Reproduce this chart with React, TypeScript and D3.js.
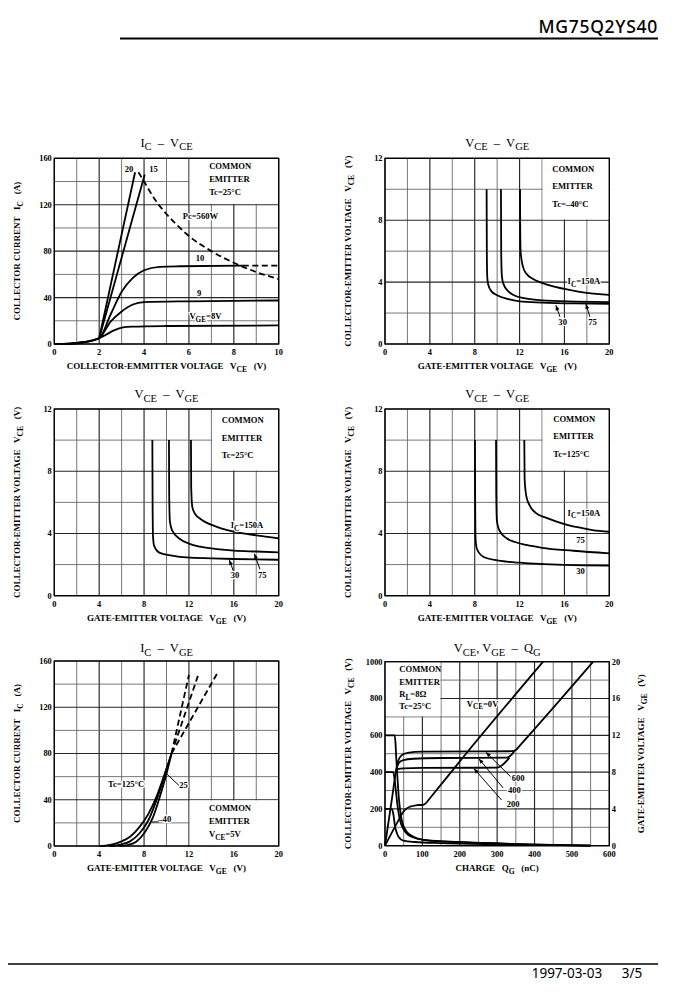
import React from 'react';
import * as d3 from 'd3';

type Pt = [number, number];

// ---------------- Chart 1 : IC - VCE ----------------
const c1XTicks = [0, 2, 4, 6, 8, 10];
const c1YTicks = [0, 40, 80, 120, 160];
const c1Vge8: Pt[] = [[0, 0], [0.7, 0.3], [1.3, 1.5], [2, 5], [2.3, 8], [2.63, 11.5], [3, 14.2], [3.5, 15], [5, 15.5], [10, 16]];
const c1Vge9: Pt[] = [[0, 0], [0.7, 0.3], [1.3, 1.5], [2, 5], [2.5, 19], [3, 28], [3.5, 34], [4, 36], [6, 36.8], [10, 37.5]];
const c1Vge10: Pt[] = [[0, 0], [0.7, 0.3], [1.3, 1.5], [2, 5], [2.5, 25], [3, 45], [3.5, 57], [4, 63.5], [4.7, 66.5], [5.6, 67], [8.4, 67.5]];
const c1Vge10Ext: Pt[] = [[8.4, 67.5], [10, 67.5]];
const c1Vge15: Pt[] = [[2, 5], [4.03, 146]];
const c1Vge20: Pt[] = [[2, 5], [3.6, 148]];
const c1Pc560: Pt[] = [[3.75, 148], [4, 140], [4.5, 124], [5, 112], [5.6, 100], [6, 93], [7, 80], [8, 70], [9, 62], [10, 56]];

// ---------------- Chart 2 : VCE - VGE, Tc = -40 ----------------
const vgeTicks = [0, 4, 8, 12, 16, 20];
const vceTicks = [0, 4, 8, 12];
const c2Ic30: Pt[] = [[9.06, 10], [9.08, 6], [9.12, 4.3], [9.2, 3.85], [9.5, 3.4], [10, 3.15], [11, 2.9], [12, 2.76], [14, 2.68], [17, 2.62], [20, 2.6]];
const c2Ic75: Pt[] = [[10.34, 10], [10.36, 6], [10.42, 4.4], [10.55, 3.9], [11, 3.4], [11.5, 3.15], [12.5, 2.95], [14, 2.82], [17, 2.74], [20, 2.7]];
const c2Ic150: Pt[] = [[12.04, 10], [12.06, 7], [12.1, 5.9], [12.3, 5.0], [12.6, 4.55], [13.2, 4.2], [14, 3.95], [15, 3.72], [16.8, 3.45], [18, 3.3], [20, 3.17]];

// ---------------- Chart 3 : VCE - VGE, Tc = 25 ----------------
const c3Ic30: Pt[] = [[8.74, 10], [8.76, 6], [8.8, 3.8], [8.9, 3.2], [9.4, 2.75], [10.5, 2.58], [11.8, 2.46], [14, 2.4], [16, 2.36], [20, 2.31]];
const c3Ic75: Pt[] = [[10.22, 10], [10.24, 6.5], [10.3, 4.8], [10.5, 4.2], [11.2, 3.64], [12, 3.35], [13, 3.15], [14.5, 3.0], [16, 2.9], [18, 2.84], [20, 2.79]];
const c3Ic150: Pt[] = [[12.18, 10], [12.2, 7], [12.3, 5.7], [12.6, 5.2], [13, 4.95], [13.6, 4.68], [14.2, 4.5], [15, 4.3], [16, 4.12], [18, 3.88], [20, 3.69]];

// ---------------- Chart 4 : VCE - VGE, Tc = 125 ----------------
const c4Ic30: Pt[] = [[8.02, 10], [8.04, 6], [8.08, 3.6], [8.2, 3.0], [8.77, 2.5], [10, 2.27], [10.85, 2.19], [12, 2.12], [13.8, 2.04], [16, 1.98], [20, 1.93]];
const c4Ic75: Pt[] = [[9.9, 10], [9.92, 6.5], [9.98, 4.8], [10.2, 4.2], [10.85, 3.69], [11.6, 3.45], [12.6, 3.26], [14, 3.08], [16.8, 2.89], [20, 2.72]];
const c4Ic150: Pt[] = [[12.42, 10], [12.45, 7.5], [12.6, 6.4], [12.9, 5.8], [13.5, 5.29], [14.4, 5.0], [15.3, 4.76], [16.5, 4.5], [17.4, 4.37], [18.5, 4.22], [20, 4.11]];

// ---------------- Chart 5 : IC - VGE ----------------
const c5XTicks = [0, 4, 8, 12, 16, 20];
const c5YTicks = [0, 40, 80, 120, 160];
const c5Tc125: Pt[] = [[4, 0], [5, 1], [6, 4], [6.75, 8], [7.6, 16.5], [8.4, 28], [9.1, 42.5], [9.7, 58.5], [10.45, 80]];
const c5Tc25: Pt[] = [[4.9, 0], [6, 1.5], [6.75, 4], [7.6, 11], [8.4, 22.5], [9.1, 39.5], [9.7, 57], [10.45, 80]];
const c5TcM40: Pt[] = [[5.8, 0], [6.6, 1], [7.3, 3.7], [8.1, 12.4], [8.8, 25], [9.4, 42.5], [10, 62.5], [10.45, 80]];
const c5Ext1: Pt[] = [[10.45, 80], [12, 148]];
const c5Ext2: Pt[] = [[10.45, 80], [12.9, 150]];
const c5Ext3: Pt[] = [[10.45, 80], [14.5, 149]];

// ---------------- Chart 6 : VCE, VGE - QG ----------------
const qgTicks = [0, 100, 200, 300, 400, 500, 600];
const c6LeftTicks = [0, 200, 400, 600, 800, 1000];
const c6RightTicks = [0, 4, 8, 12, 16, 20];
const c6Vce600: Pt[] = [[0, 600], [26, 600], [28, 560], [30, 480], [33, 380], [37, 260], [42, 170], [48, 115], [58, 76], [76, 49], [103, 32], [150, 24], [250, 15], [400, 6], [550, 0]];
const c6Vce400: Pt[] = [[0, 400], [22, 400], [25, 370], [29, 300], [34, 210], [40, 140], [48, 95], [60, 62], [80, 42], [110, 30], [200, 20], [350, 9], [550, 0]];
const c6Vce200: Pt[] = [[0, 200], [18, 200], [22, 175], [27, 103], [32, 68], [36, 49], [49, 28], [80, 20], [150, 14], [300, 7], [550, 0]];
const c6Vge0: Pt[] = [[0, 0], [20, 1.55], [40, 3.05], [49, 3.7], [58, 4.05], [67, 4.24], [85, 4.4], [103, 4.45], [110, 4.65], [118, 5.05], [214, 9.86], [423, 20]];
const c6Vge600: Pt[] = [[0, 0], [10, 2.75], [20, 5.5], [29, 8.0], [35, 9.2], [45, 9.85], [60, 10.1], [100, 10.22], [250, 10.25], [340, 10.27], [350, 10.4], [360, 10.85], [557, 20]];
const c6Vge400: Pt[] = [[29, 8.0], [36, 8.95], [49, 9.3], [76, 9.45], [150, 9.53], [325, 9.57], [333, 9.7], [346, 10.27]];
const c6Vge200: Pt[] = [[29, 8.0], [36, 8.34], [49, 8.4], [100, 8.46], [300, 8.48], [308, 8.6], [333, 9.57]];

// ---------------- layout / styles ----------------
const SERIF = "'Liberation Serif', 'Times New Roman', serif";
const SANS = "'Noto Sans', 'Open Sans', sans-serif";

interface Series { pts: Pt[]; dash?: boolean; right?: boolean; }
interface Label { text: string; x: number; y: number; anchor?: 'start' | 'middle' | 'end'; halo?: boolean; }
interface Arrow { from: Pt; to: Pt; head?: boolean; }
interface ChartDef {
  box: [number, number, number, number];
  xDomain: [number, number]; yDomain: [number, number]; yRightDomain?: [number, number];
  xGrid: number[]; xTicks: number[]; yGrid: number[]; yTicks: number[]; yRightTicks?: number[];
  mask: [number, number, number, number];
  series: Series[]; labels: Label[]; arrows: Arrow[];
  title: string; titleY: number; xLabel: string; yLabel: string; yRightLabel?: string;
}

function rich(s: string, size: number) {
  const parts = s.split(/(_\{[^}]*\})/).filter(p => p !== '');
  const out: React.ReactNode[] = [];
  let shifted = false;
  const sh = size * 0.3;
  parts.forEach((p, i) => {
    if (p.startsWith('_{')) {
      out.push(<tspan key={i} fontSize={size * 0.84} dy={shifted ? 0 : sh}>{p.slice(2, -1)}</tspan>);
      shifted = true;
    } else {
      out.push(<tspan key={i} dy={shifted ? -sh : 0}>{p}</tspan>);
      shifted = false;
    }
  });
  return out;
}

const grid = (a: number, b: number, s: number) => d3.range(a, b + s / 2, s);

const charts: ChartDef[] = [
  {
    box: [54.3, 158.3, 278.7, 344], xDomain: [0, 10], yDomain: [0, 160],
    xGrid: grid(0, 10, 1), xTicks: c1XTicks, yGrid: grid(0, 160, 20), yTicks: c1YTicks,
    mask: [6, 10, 120, 160],
    series: [
      { pts: c1Vge8 }, { pts: c1Vge9 }, { pts: c1Vge10 }, { pts: c1Vge10Ext, dash: true },
      { pts: c1Vge15 }, { pts: c1Vge20 }, { pts: c1Pc560, dash: true },
    ],
    labels: [
      { text: '20', x: 3.33, y: 148.5, anchor: 'middle', halo: false },
      { text: '15', x: 4.42, y: 148.5, anchor: 'middle', halo: false },
      { text: 'Pc=560W', x: 5.72, y: 107.3 },
      { text: '10', x: 6.49, y: 71.7, anchor: 'middle' },
      { text: '9', x: 6.45, y: 41.5, anchor: 'middle' },
      { text: 'V_{GE}=8V', x: 6.02, y: 21.5 },
      { text: 'COMMON', x: 6.9, y: 150.5, halo: false },
      { text: 'EMITTER', x: 6.9, y: 139.6, halo: false },
      { text: 'Tc=25°C', x: 6.9, y: 128.8, halo: false },
    ],
    arrows: [],
    title: 'I_{C}  –  V_{CE}', titleY: 146.7,
    xLabel: 'COLLECTOR-EMMITTER VOLTAGE   V_{CE}   (V)', yLabel: 'COLLECTOR CURRENT   I_{C}   (A)',
  },
  {
    box: [385, 158.3, 609.3, 344], xDomain: [0, 20], yDomain: [0, 12],
    xGrid: grid(0, 20, 2), xTicks: vgeTicks, yGrid: grid(0, 12, 2), yTicks: vceTicks,
    mask: [14, 20, 8, 12],
    series: [{ pts: c2Ic30 }, { pts: c2Ic75 }, { pts: c2Ic150 }],
    labels: [
      { text: 'I_{C}=150A', x: 16.28, y: 3.88 },
      { text: '30', x: 15.84, y: 1.23, anchor: 'middle' },
      { text: '75', x: 18.51, y: 1.23, anchor: 'middle' },
      { text: 'COMMON', x: 14.91, y: 11.14, halo: false },
      { text: 'EMITTER', x: 14.91, y: 10.0, halo: false },
      { text: 'Tc=–40°C', x: 14.91, y: 8.88, halo: false },
    ],
    arrows: [
      { from: [15.6, 1.76], to: [15.24, 2.5], head: true },
      { from: [18.27, 1.76], to: [17.91, 2.6], head: true },
    ],
    title: 'V_{CE}  –  V_{GE}', titleY: 146.7,
    xLabel: 'GATE-EMITTER VOLTAGE   V_{GE}   (V)', yLabel: 'COLLECTOR-EMITTER VOLTAGE   V_{CE}   (V)',
  },
  {
    box: [54.3, 409, 278.7, 595.7], xDomain: [0, 20], yDomain: [0, 12],
    xGrid: grid(0, 20, 2), xTicks: vgeTicks, yGrid: grid(0, 12, 2), yTicks: vceTicks,
    mask: [14, 20, 8, 12],
    series: [{ pts: c3Ic30 }, { pts: c3Ic75 }, { pts: c3Ic150 }],
    labels: [
      { text: 'I_{C}=150A', x: 15.72, y: 4.33 },
      { text: '30', x: 16.1, y: 1.16, anchor: 'middle' },
      { text: '75', x: 18.54, y: 1.16, anchor: 'middle' },
      { text: 'COMMON', x: 14.92, y: 11.13, halo: false },
      { text: 'EMITTER', x: 14.92, y: 9.97, halo: false },
      { text: 'Tc=25°C', x: 14.92, y: 8.84, halo: false },
    ],
    arrows: [
      { from: [15.95, 1.6], to: [15.6, 2.3], head: true },
      { from: [18.33, 1.7], to: [17.83, 2.7], head: true },
    ],
    title: 'V_{CE}  –  V_{GE}', titleY: 398,
    xLabel: 'GATE-EMITTER VOLTAGE   V_{GE}   (V)', yLabel: 'COLLECTOR-EMITTER VOLTAGE   V_{CE}   (V)',
  },
  {
    box: [385, 409, 609.3, 595.7], xDomain: [0, 20], yDomain: [0, 12],
    xGrid: grid(0, 20, 2), xTicks: vgeTicks, yGrid: grid(0, 12, 2), yTicks: vceTicks,
    mask: [14, 20, 8, 12],
    series: [{ pts: c4Ic30 }, { pts: c4Ic75 }, { pts: c4Ic150 }],
    labels: [
      { text: 'I_{C}=150A', x: 16.28, y: 5.13 },
      { text: '75', x: 17.44, y: 3.37, anchor: 'middle' },
      { text: '30', x: 17.44, y: 1.38, anchor: 'middle' },
      { text: 'COMMON', x: 15.0, y: 11.19, halo: false },
      { text: 'EMITTER', x: 15.0, y: 10.06, halo: false },
      { text: 'Tc=125°C', x: 15.0, y: 8.9, halo: false },
    ],
    arrows: [],
    title: 'V_{CE}  –  V_{GE}', titleY: 398,
    xLabel: 'GATE-EMITTER VOLTAGE   V_{GE}   (V)', yLabel: 'COLLECTOR-EMITTER VOLTAGE   V_{CE}   (V)',
  },
  {
    box: [54.3, 661, 278.7, 846], xDomain: [0, 20], yDomain: [0, 160],
    xGrid: grid(0, 20, 2), xTicks: c5XTicks, yGrid: grid(0, 160, 20), yTicks: c5YTicks,
    mask: [12, 20, 0, 40],
    series: [
      { pts: c5Tc125 }, { pts: c5Tc25 }, { pts: c5TcM40 },
      { pts: c5Ext1, dash: true }, { pts: c5Ext2, dash: true }, { pts: c5Ext3, dash: true },
    ],
    labels: [
      { text: 'Tc=125°C', x: 4.79, y: 51 },
      { text: '25', x: 11.51, y: 50.2, anchor: 'middle' },
      { text: '–40', x: 9.27, y: 20.8 },
      { text: 'COMMON', x: 13.79, y: 30.5, halo: false },
      { text: 'EMITTER', x: 13.79, y: 19.0, halo: false },
      { text: 'V_{CE}=5V', x: 13.79, y: 7.5, halo: false },
    ],
    arrows: [
      { from: [11.1, 52.5], to: [9.95, 63] },
      { from: [8.68, 20.8], to: [9.3, 20.8] },
    ],
    title: 'I_{C}  –  V_{GE}', titleY: 652,
    xLabel: 'GATE-EMITTER VOLTAGE   V_{GE}   (V)', yLabel: 'COLLECTOR CURRENT   I_{C}   (A)',
  },
  {
    box: [385, 661.7, 609.3, 845.7], xDomain: [0, 600], yDomain: [0, 1000], yRightDomain: [0, 20],
    xGrid: grid(0, 600, 50), xTicks: qgTicks, yGrid: grid(0, 1000, 100), yTicks: c6LeftTicks, yRightTicks: c6RightTicks,
    mask: [0, 150, 700, 1000],
    series: [
      { pts: c6Vce600 }, { pts: c6Vce400 }, { pts: c6Vce200 },
      { pts: c6Vge0, right: true }, { pts: c6Vge600, right: true },
      { pts: c6Vge400, right: true }, { pts: c6Vge200, right: true },
    ],
    labels: [
      { text: 'COMMON', x: 38.3, y: 942, halo: false },
      { text: 'EMITTER', x: 38.3, y: 873, halo: false },
      { text: 'R_{L}=8Ω', x: 38.3, y: 808, halo: false },
      { text: 'Tc=25°C', x: 38.3, y: 743, halo: false },
      { text: 'V_{CE}=0V', x: 218.6, y: 755 },
      { text: '600', x: 339, y: 353 },
      { text: '400', x: 329, y: 288 },
      { text: '200', x: 325.6, y: 212 },
    ],
    arrows: [
      { from: [336, 375], to: [270, 508], head: true },
      { from: [316, 314], to: [251, 473], head: true },
      { from: [312, 248], to: [238, 419], head: true },
    ],
    title: 'V_{CE}, V_{GE}  –  Q_{G}', titleY: 652,
    xLabel: 'CHARGE   Q_{G}   (nC)', yLabel: 'COLLECTOR-EMITTER VOLTAGE   V_{CE}   (V)',
    yRightLabel: 'GATE-EMITTER VOLTAGE   V_{GE}   (V)',
  },
];

const LBL = 8.6;
const AX = 9;
const TICK = 8.4;

function Chart({ d }: { d: ChartDef }) {
  const [l, t, r, b] = d.box;
  const x = d3.scaleLinear().domain(d.xDomain).range([l, r]);
  const y = d3.scaleLinear().domain(d.yDomain).range([b, t]);
  const yR = d.yRightDomain ? d3.scaleLinear().domain(d.yRightDomain).range([b, t]) : y;
  const path = (s: Series) =>
    d3.line<Pt>().x(p => x(p[0])).y(p => (s.right ? yR : y)(p[1])).curve(d3.curveMonotoneX)(s.pts) || '';
  const major = (v: number, ticks: number[]) => ticks.some(tk => Math.abs(tk - v) < 1e-9);
  const [mx0, mx1, my0, my1] = d.mask;
  const cx = (l + r) / 2;
  const cy = (t + b) / 2;
  return (
    <g>
      {d.xGrid.map(v => (
        <line key={'gx' + v} x1={x(v)} x2={x(v)} y1={t} y2={b}
          stroke={major(v, d.xTicks) ? '#262626' : '#5e5e5e'} strokeWidth={major(v, d.xTicks) ? 1.15 : 0.85} />
      ))}
      {d.yGrid.map(v => (
        <line key={'gy' + v} x1={l} x2={r} y1={y(v)} y2={y(v)}
          stroke={major(v, d.yTicks) ? '#262626' : '#5e5e5e'} strokeWidth={major(v, d.yTicks) ? 1.15 : 0.85} />
      ))}
      <rect x={x(mx0) + 0.7} y={y(my1) + 0.7} width={x(mx1) - x(mx0) - 1.4} height={y(my0) - y(my1) - 1.4} fill="white" />
      {d.series.map((s, i) => (
        <path key={'s' + i} d={path(s)} fill="none" stroke="black" strokeWidth={1.8}
          strokeDasharray={s.dash ? '6,3.5' : undefined} strokeLinejoin="round" />
      ))}
      <rect x={l} y={t} width={r - l} height={b - t} fill="none" stroke="black" strokeWidth={1.3} />
      {d.xTicks.map(v => (
        <text key={'tx' + v} x={x(v)} y={b + 8} dy="0.35em" textAnchor="middle" fontSize={TICK} fontWeight="bold">{v}</text>
      ))}
      {d.yTicks.map(v => (
        <text key={'ty' + v} x={l - 2.5} y={y(v)} dy="0.35em" textAnchor="end" fontSize={TICK} fontWeight="bold">{v}</text>
      ))}
      {d.yRightTicks && d.yRightTicks.map(v => (
        <text key={'tr' + v} x={r + 2.5} y={yR(v)} dy="0.35em" textAnchor="start" fontSize={TICK} fontWeight="bold">{v}</text>
      ))}
      {d.labels.map((lb, i) => (
        <text key={'l' + i} x={x(lb.x)} y={y(lb.y)} dy="0.35em" textAnchor={lb.anchor || 'start'}
          fontSize={LBL} fontWeight="bold"
          stroke={lb.halo === false ? undefined : 'white'} strokeWidth={lb.halo === false ? undefined : 2.5}
          strokeLinejoin="round" paintOrder="stroke">
          {rich(lb.text, LBL)}
        </text>
      ))}
      {d.arrows.map((a, i) => (
        <line key={'a' + i} x1={x(a.from[0])} y1={y(a.from[1])} x2={x(a.to[0])} y2={y(a.to[1])}
          stroke="black" strokeWidth={1} markerEnd={a.head ? 'url(#ah)' : undefined} />
      ))}
      <text x={cx} y={d.titleY} dy="0.35em" textAnchor="middle" fontSize={12.5} xmlSpace="preserve">{rich(d.title, 12.5)}</text>
      <text x={cx} y={b + 25.3} dy="0.35em" textAnchor="middle" fontSize={AX} fontWeight="bold" xmlSpace="preserve">
        {rich(d.xLabel, AX)}
      </text>
      <text transform={`translate(${l - 34},${cy}) rotate(-90)`} dy="0.35em" textAnchor="middle" fontSize={AX}
        fontWeight="bold" xmlSpace="preserve">
        {rich(d.yLabel, AX)}
      </text>
      {d.yRightLabel && (
        <text transform={`translate(${r + 35},${cy}) rotate(-90)`} dy="0.35em" textAnchor="middle" fontSize={AX}
          fontWeight="bold" xmlSpace="preserve">
          {rich(d.yRightLabel, AX)}
        </text>
      )}
    </g>
  );
}

export default function App() {
  return (
    <svg width={687} height={996} viewBox="0 0 687 996"
      style={{ position: 'absolute', left: 0, top: 0, background: 'white' }} fontFamily={SERIF}>
      <defs>
        <marker id="ah" viewBox="0 0 10 10" refX="10" refY="5" markerWidth="6" markerHeight="5"
          orient="auto" markerUnits="userSpaceOnUse">
          <path d="M0,1 L10,5 L0,9 z" fill="black" />
        </marker>
      </defs>
      <rect x={0} y={0} width={687} height={996} fill="white" />
      <text x={658} y={33.3} textAnchor="end" fontFamily={SANS} fontSize={17.5} fontWeight={500} letterSpacing={0.7}>MG75Q2YS40</text>
      <line x1={120} x2={658} y1={38.4} y2={38.4} stroke="black" strokeWidth={2} />
      {charts.map((c, i) => <Chart key={i} d={c} />)}
      <line x1={8} x2={658} y1={964} y2={964} stroke="black" strokeWidth={1.5} />
      <text x={531.7} y={978.3} fontFamily={SANS} fontSize={13.5}>1997-03-03</text>
      <text x={621.7} y={978.3} fontFamily={SANS} fontSize={13.5}>3/5</text>
    </svg>
  );
}
